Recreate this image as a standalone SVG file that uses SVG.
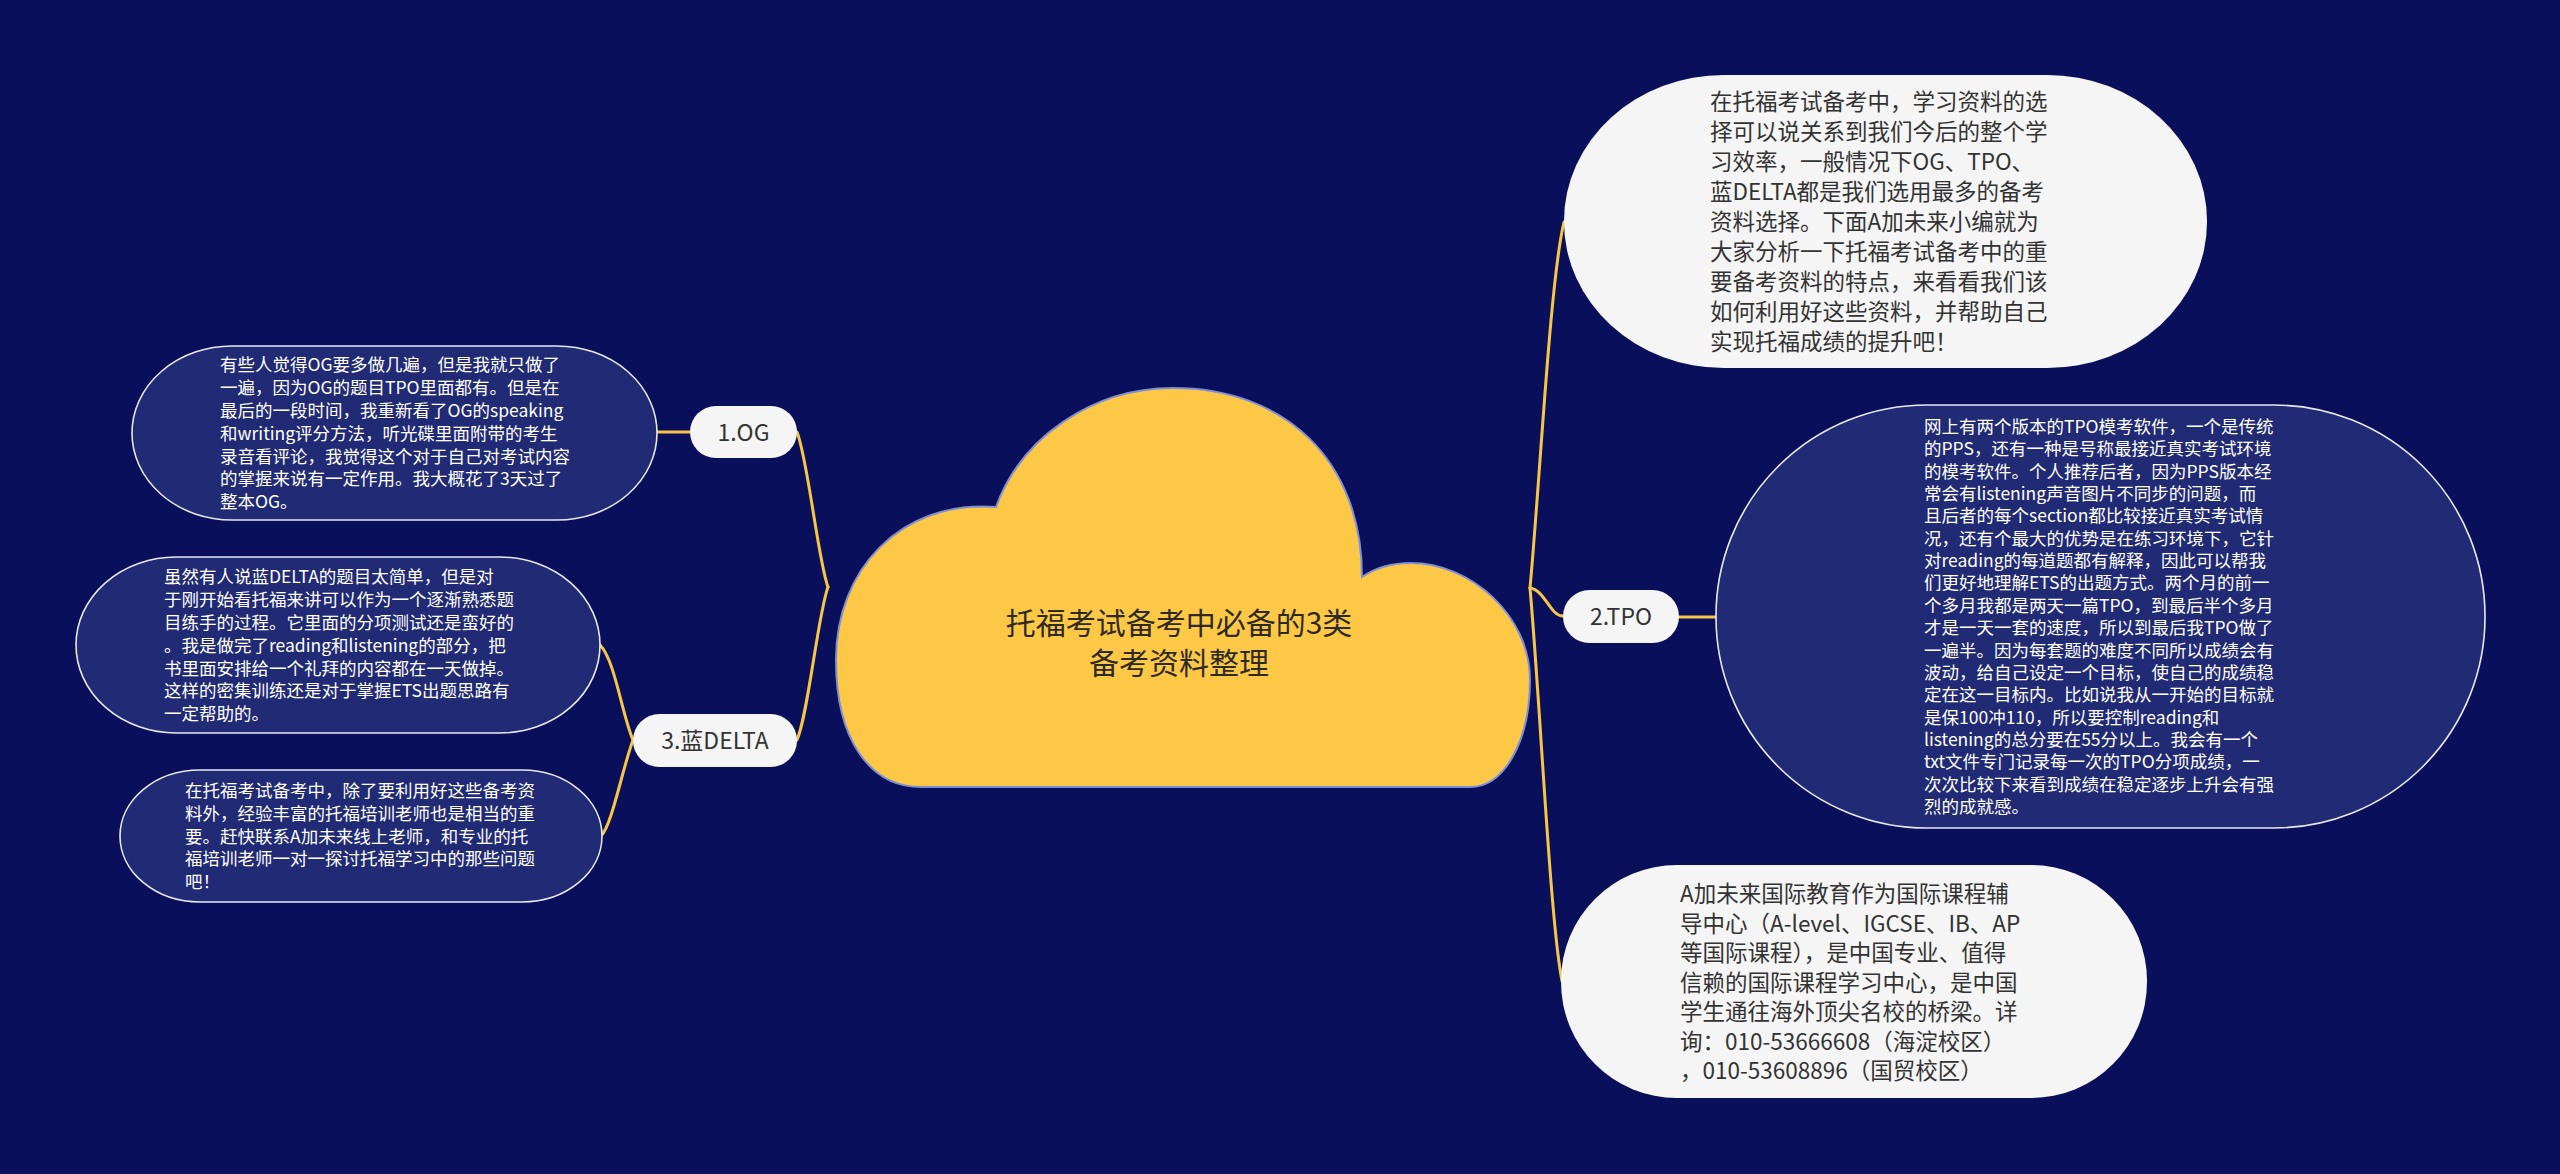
<svg xmlns="http://www.w3.org/2000/svg" width="2560" height="1174" viewBox="0 0 2560 1174">
<style>
.bg{fill:#0a0f5c}
.dark{fill:#212a75;stroke:#e6e8f2;stroke-width:1.6}
.light{fill:#f5f5f5}
.conn{fill:none;stroke:#f7c646;stroke-width:3;stroke-linecap:round}
text{font-family:"Noto Sans CJK SC","Noto Sans",sans-serif}
.tw{fill:#ffffff;font-size:17.5px}
.tb{fill:#333333;font-size:22.5px}
.lab{fill:#333333;font-size:23px;text-anchor:middle}
.title{fill:#2e2a1f;font-size:30px;text-anchor:middle}
</style>
<rect class="bg" x="0" y="0" width="2560" height="1174"/>

<g id="connectors">
  <path class="conn" d="M 828 587 C 818 560, 808 460, 797 432"/>
  <path class="conn" d="M 828 587 C 818 614, 808 715, 797 740"/>
  <path class="conn" d="M 690 432 L 657 432"/>
  <path class="conn" d="M 633 740 C 622 715, 615 660, 600 645"/>
  <path class="conn" d="M 633 740 C 622 770, 612 825, 601 836"/>
  <path class="conn" d="M 1530 588 C 1540 480, 1550 280, 1564 222"/>
  <path class="conn" d="M 1530 588 C 1540 700, 1550 920, 1562 981"/>
  <path class="conn" d="M 1530 588 C 1545 590, 1550 616, 1563 616"/>
  <path class="conn" d="M 1679 617 L 1716 617"/>
</g>

<g id="center">
  <path d="M 921 787 L 1470 787 C 1505 787, 1530 740, 1530 680 C 1530 615, 1470 563, 1411 563 C 1392 563, 1375 568, 1362 577 C 1362 460, 1285 388, 1173 388 C 1090 388, 1020 440, 996 507 C 900 500, 836 570, 836 660 C 836 740, 870 787, 921 787 Z" fill="#fdc846" stroke="#7f8fd4" stroke-width="2"/>
  <text class="title" x="1179" y="634">托福考试备考中必备的3类</text>
  <text class="title" x="1179" y="674">备考资料整理</text>
</g>

<g id="intro">
  <rect class="light" x="1564" y="75" width="643" height="293" rx="160" ry="146"/>
  <text class="tb" x="1710" y="110">
    <tspan x="1710" y="110">在托福考试备考中，学习资料的选</tspan>
    <tspan x="1710" dy="30">择可以说关系到我们今后的整个学</tspan>
    <tspan x="1710" dy="30">习效率，一般情况下OG、TPO、</tspan>
    <tspan x="1710" dy="30">蓝DELTA都是我们选用最多的备考</tspan>
    <tspan x="1710" dy="30">资料选择。下面A加未来小编就为</tspan>
    <tspan x="1710" dy="30">大家分析一下托福考试备考中的重</tspan>
    <tspan x="1710" dy="30">要备考资料的特点，来看看我们该</tspan>
    <tspan x="1710" dy="30">如何利用好这些资料，并帮助自己</tspan>
    <tspan x="1710" dy="30">实现托福成绩的提升吧！</tspan>
  </text>
</g>

<g id="label-tpo">
  <rect class="light" x="1563" y="590" width="116" height="53" rx="26.5"/>
  <text class="lab" x="1621" y="625">2.TPO</text>
</g>

<g id="tpo-detail">
  <rect class="dark" x="1716" y="405" width="769" height="423" rx="211"/>
  <text class="tw" x="1924" y="433">
    <tspan x="1924" y="433">网上有两个版本的TPO模考软件，一个是传统</tspan>
    <tspan x="1924" dy="22.35">的PPS，还有一种是号称最接近真实考试环境</tspan>
    <tspan x="1924" dy="22.35">的模考软件。个人推荐后者，因为PPS版本经</tspan>
    <tspan x="1924" dy="22.35">常会有listening声音图片不同步的问题，而</tspan>
    <tspan x="1924" dy="22.35">且后者的每个section都比较接近真实考试情</tspan>
    <tspan x="1924" dy="22.35">况，还有个最大的优势是在练习环境下，它针</tspan>
    <tspan x="1924" dy="22.35">对reading的每道题都有解释，因此可以帮我</tspan>
    <tspan x="1924" dy="22.35">们更好地理解ETS的出题方式。两个月的前一</tspan>
    <tspan x="1924" dy="22.35">个多月我都是两天一篇TPO，到最后半个多月</tspan>
    <tspan x="1924" dy="22.35">才是一天一套的速度，所以到最后我TPO做了</tspan>
    <tspan x="1924" dy="22.35">一遍半。因为每套题的难度不同所以成绩会有</tspan>
    <tspan x="1924" dy="22.35">波动，给自己设定一个目标，使自己的成绩稳</tspan>
    <tspan x="1924" dy="22.35">定在这一目标内。比如说我从一开始的目标就</tspan>
    <tspan x="1924" dy="22.35">是保100冲110，所以要控制reading和</tspan>
    <tspan x="1924" dy="22.35">listening的总分要在55分以上。我会有一个</tspan>
    <tspan x="1924" dy="22.35">txt文件专门记录每一次的TPO分项成绩，一</tspan>
    <tspan x="1924" dy="22.35">次次比较下来看到成绩在稳定逐步上升会有强</tspan>
    <tspan x="1924" dy="22.35">烈的成就感。</tspan>
  </text>
</g>

<g id="about">
  <rect class="light" x="1561" y="865" width="586" height="233" rx="116"/>
  <text class="tb" x="1680" y="902">
    <tspan x="1680" y="902">A加未来国际教育作为国际课程辅</tspan>
    <tspan x="1680" dy="29.5">导中心（A-level、IGCSE、IB、AP</tspan>
    <tspan x="1680" dy="29.5">等国际课程），是中国专业、值得</tspan>
    <tspan x="1680" dy="29.5">信赖的国际课程学习中心，是中国</tspan>
    <tspan x="1680" dy="29.5">学生通往海外顶尖名校的桥梁。详</tspan>
    <tspan x="1680" dy="29.5">询：010-53666608（海淀校区）</tspan>
    <tspan x="1680" dy="29.5">，010-53608896（国贸校区）</tspan>
  </text>
</g>

<g id="label-og">
  <rect class="light" x="690" y="406" width="107" height="52" rx="26"/>
  <text class="lab" x="743.5" y="440.5">1.OG</text>
</g>

<g id="og-detail">
  <rect class="dark" x="132" y="346" width="525" height="174" rx="100" ry="87"/>
  <text class="tw" x="220" y="371.3">
    <tspan x="220" y="371.3">有些人觉得OG要多做几遍，但是我就只做了</tspan>
    <tspan x="220" dy="22.8">一遍，因为OG的题目TPO里面都有。但是在</tspan>
    <tspan x="220" dy="22.8">最后的一段时间，我重新看了OG的speaking</tspan>
    <tspan x="220" dy="22.8">和writing评分方法，听光碟里面附带的考生</tspan>
    <tspan x="220" dy="22.8">录音看评论，我觉得这个对于自己对考试内容</tspan>
    <tspan x="220" dy="22.8">的掌握来说有一定作用。我大概花了3天过了</tspan>
    <tspan x="220" dy="22.8">整本OG。</tspan>
  </text>
</g>

<g id="label-delta">
  <rect class="light" x="633" y="714" width="164" height="53" rx="26.5"/>
  <text class="lab" x="715" y="749">3.蓝DELTA</text>
</g>

<g id="delta-detail-1">
  <rect class="dark" x="76" y="557" width="524" height="176" rx="100" ry="88"/>
  <text class="tw" x="164" y="583.3">
    <tspan x="164" y="583.3">虽然有人说蓝DELTA的题目太简单，但是对</tspan>
    <tspan x="164" dy="22.8">于刚开始看托福来讲可以作为一个逐渐熟悉题</tspan>
    <tspan x="164" dy="22.8">目练手的过程。它里面的分项测试还是蛮好的</tspan>
    <tspan x="164" dy="22.8">。我是做完了reading和listening的部分，把</tspan>
    <tspan x="164" dy="22.8">书里面安排给一个礼拜的内容都在一天做掉。</tspan>
    <tspan x="164" dy="22.8">这样的密集训练还是对于掌握ETS出题思路有</tspan>
    <tspan x="164" dy="22.8">一定帮助的。</tspan>
  </text>
</g>

<g id="delta-detail-2">
  <rect class="dark" x="120" y="770" width="482" height="132" rx="80" ry="66"/>
  <text class="tw" x="185" y="797">
    <tspan x="185" y="797">在托福考试备考中，除了要利用好这些备考资</tspan>
    <tspan x="185" dy="22.8">料外，经验丰富的托福培训老师也是相当的重</tspan>
    <tspan x="185" dy="22.8">要。赶快联系A加未来线上老师，和专业的托</tspan>
    <tspan x="185" dy="22.8">福培训老师一对一探讨托福学习中的那些问题</tspan>
    <tspan x="185" dy="22.8">吧！</tspan>
  </text>
</g>
</svg>
